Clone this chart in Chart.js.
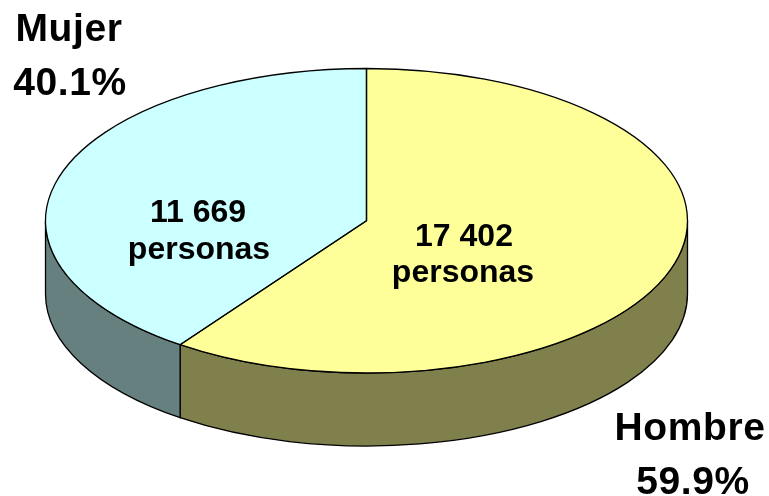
<!DOCTYPE html>
<html lang="es">
<head>
<meta charset="utf-8">
<title>Mujer / Hombre</title>
<script src="https://cdn.jsdelivr.net/npm/chart.js@4"></script>
<style>
html,body{margin:0;padding:0;background:#fff}
#box{position:relative;width:769px;height:496px}
</style>
</head>
<body>
<div id="box"><canvas id="c" width="769" height="496"></canvas></div>
<script>
const categories = ['Hombre', 'Mujer'];
const personas = [17402, 11669];
const shareLabels = ['59.9%', '40.1%'];
const countLabels = ['17 402', '11 669'];
const unitLabel = 'personas';

const topColors = ['#FFFF99', '#CCFFFF'];
const wallColors = ['#80804D', '#668080'];

const SQUASH = 152.25 / 321;
const DEPTH = 73;

const pie3d = {
  id: 'pie3d',
  beforeDatasetsDraw(chart) {
    const ctx = chart.ctx;
    const arcs = chart.getDatasetMeta(0).data;
    arcs.forEach((el, i) => {
      const a = Math.max(el.startAngle, 0), b = Math.min(el.endAngle, Math.PI);
      if (b <= a) return;
      const rx = el.outerRadius, ry = rx * SQUASH;
      ctx.save();
      ctx.beginPath();
      ctx.ellipse(el.x, el.y, rx, ry, 0, a, b);
      ctx.ellipse(el.x, el.y + DEPTH, rx, ry, 0, b, a, true);
      ctx.closePath();
      ctx.fillStyle = wallColors[i];
      ctx.fill();
      ctx.lineWidth = 1.3;
      ctx.strokeStyle = '#000';
      ctx.stroke();
      ctx.restore();
    });
    const first = arcs[0];
    ctx.save();
    ctx.translate(first.x, first.y);
    ctx.scale(1, SQUASH);
    ctx.translate(-first.x, -first.y);
  },
  afterDatasetsDraw(chart) {
    const ctx = chart.ctx;
    ctx.restore();
    chart.getDatasetMeta(0).data.forEach(el => {
      const rx = el.outerRadius, ry = rx * SQUASH;
      ctx.save();
      ctx.beginPath();
      ctx.moveTo(el.x, el.y);
      ctx.ellipse(el.x, el.y, rx, ry, 0, el.startAngle, el.endAngle);
      ctx.closePath();
      ctx.lineWidth = 1.3;
      ctx.strokeStyle = '#000';
      ctx.lineJoin = 'round';
      ctx.stroke();
      ctx.restore();
    });
    ctx.save();
    ctx.fillStyle = '#000';
    ctx.textAlign = 'center';
    ctx.textBaseline = 'alphabetic';
    ctx.font = 'bold 39px "Liberation Sans", Arial, sans-serif';
    ctx.letterSpacing = '0.6px';
    ctx.fillText(categories[1], 69, 41);
    ctx.fillText(shareLabels[1], 70, 95);
    ctx.fillText(categories[0], 690, 440);
    ctx.fillText(shareLabels[0], 693, 494);
    ctx.font = 'bold 32px "Liberation Sans", Arial, sans-serif';
    ctx.letterSpacing = '0px';
    ctx.fillText(countLabels[1], 198, 222);
    ctx.fillText(unitLabel, 199, 259);
    ctx.fillText(countLabels[0], 464, 246);
    ctx.fillText(unitLabel, 463, 282);
    ctx.restore();
  }
};

new Chart(document.getElementById('c'), {
  type: 'pie',
  data: {
    labels: categories,
    datasets: [{ data: personas, backgroundColor: topColors, borderWidth: 0 }]
  },
  options: {
    responsive: false,
    animation: false,
    radius: 321,
    layout: { padding: { left: 0, top: 0, right: 36, bottom: 54.5 } },
    plugins: { legend: { display: false }, tooltip: { enabled: false } }
  },
  plugins: [pie3d]
});
</script>
</body>
</html>
